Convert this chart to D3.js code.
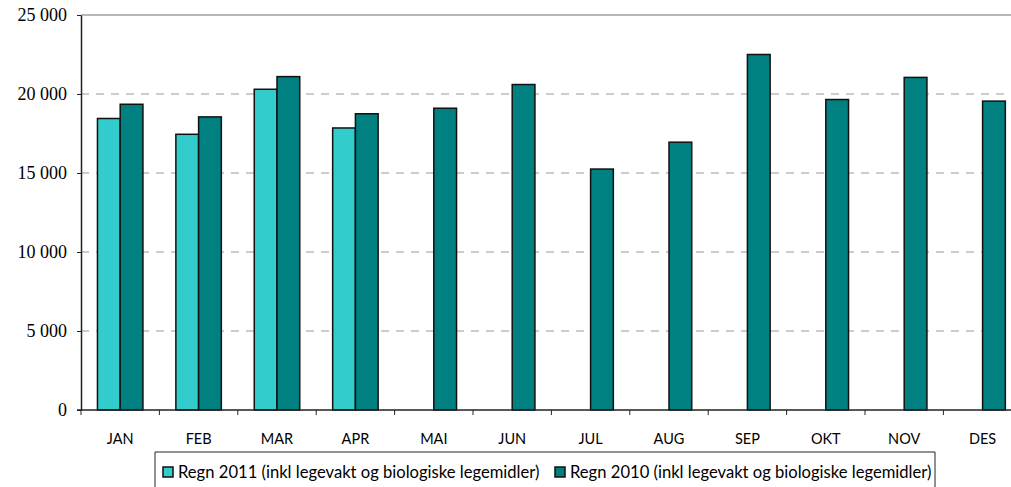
<!DOCTYPE html>
<html>
<head>
<meta charset="utf-8">
<script src="https://cdn.jsdelivr.net/npm/d3@7"></script>
<style>
  body { margin: 0; background: #fff; }
  svg { display: block; }
</style>
</head>
<body>
<div id="chart"></div>
<script>
// data
var months = ["JAN", "FEB", "MAR", "APR", "MAI", "JUN", "JUL", "AUG", "SEP", "OKT", "NOV", "DES"];
var regn2011 = [18450, 17450, 20300, 17850, null, null, null, null, null, null, null, null];
var regn2010 = [19350, 18550, 21100, 18750, 19100, 20600, 15250, 16950, 22500, 19650, 21050, 19550];
var seriesNames = ["Regn 2011 (inkl legevakt og biologiske legemidler)", "Regn 2010 (inkl legevakt og biologiske legemidler)"];
var seriesColors = ["#33cccc", "#008080"];
var yTicks = [0, 5000, 10000, 15000, 20000, 25000];

var W = 1011, H = 487;
var margin = {top: 15, left: 81},
    plotH = 410 - margin.top,
    plotW = 78.4 * months.length;

var svg = d3.select("#chart").append("svg")
    .attr("width", W)
    .attr("height", H);

var g = svg.append("g")
    .attr("transform", "translate(" + margin.left + "," + margin.top + ")");

// scales
var x = d3.scaleBand().domain(months).range([0, plotW]).padding(0);
var x1 = d3.scaleBand().domain([0, 1])
    .range([x.bandwidth() * 0.21, x.bandwidth() * 0.79]).padding(0);
var y = d3.scaleLinear().domain([0, 25000]).range([plotH, 0]);

// gridlines
g.selectAll(".grid")
    .data(yTicks.filter(function(d) { return d > 0 && d < 25000; }))
    .enter().append("line")
    .attr("x1", 0).attr("x2", W)
    .attr("y1", function(d) { return y(d); })
    .attr("y2", function(d) { return y(d); })
    .style("stroke", "#999")
    .style("stroke-width", 1)
    .style("stroke-dasharray", "8,7");

// top border of plot area
g.append("line")
    .attr("x1", 0).attr("x2", W)
    .attr("y1", y(25000)).attr("y2", y(25000))
    .style("stroke", "#a0a0a0")
    .style("stroke-width", 1.5);

// bars
var rows = [];
months.forEach(function(m, i) {
  if (regn2011[i] != null) rows.push({m: m, s: 0, v: regn2011[i]});
  if (regn2010[i] != null) rows.push({m: m, s: 1, v: regn2010[i]});
});

g.selectAll(".bar")
    .data(rows)
    .enter().append("rect")
    .attr("class", "bar")
    .attr("x", function(d) { return x(d.m) + x1(d.s); })
    .attr("width", x1.bandwidth())
    .attr("y", function(d) { return y(d.v); })
    .attr("height", function(d) { return plotH - y(d.v); })
    .style("fill", function(d) { return seriesColors[d.s]; })
    .style("stroke", "#111")
    .style("stroke-width", 1.5);

// y axis
var yAxis = g.append("g")
    .call(d3.axisLeft(y).tickValues(yTicks).tickSize(4).tickSizeOuter(0)
      .tickFormat(function(d) { return d3.format(",")(d).replace(/,/g, " "); }));
yAxis.select(".domain").style("stroke", "#222").style("stroke-width", 1.5);
yAxis.selectAll(".tick line").style("stroke", "#222");
yAxis.selectAll("text")
    .attr("x", -14)
    .style("font-family", "'Liberation Serif'")
    .style("font-size", "18px")
    .style("fill", "#000");

// x axis
var xAxis = g.append("g")
    .attr("transform", "translate(0," + plotH + ")")
    .call(d3.axisBottom(x).tickSize(0).tickSizeOuter(0));
xAxis.select(".domain").remove();
xAxis.append("line")
    .attr("x1", -4).attr("x2", W)
    .style("stroke", "#222").style("stroke-width", 1.5);
xAxis.selectAll(".sep")
    .data(months)
    .enter().append("line")
    .attr("x1", function(d) { return x(d); })
    .attr("x2", function(d) { return x(d); })
    .attr("y1", 0).attr("y2", 5)
    .style("stroke", "#222");
xAxis.selectAll("text")
    .attr("y", 0)
    .attr("dy", "34px")
    .style("font-family", "'Lato'")
    .style("font-size", "14.5px")
    .style("fill", "#000");

// legend
var legend = svg.append("g");
legend.append("path")
    .attr("d", "M155,495 V452 H935 V495")
    .style("fill", "none")
    .style("stroke", "#222")
    .style("stroke-width", 1);

var legX = [163, 555];
seriesNames.forEach(function(name, i) {
  legend.append("rect")
      .attr("x", legX[i]).attr("y", 467)
      .attr("width", 10).attr("height", 10)
      .style("fill", seriesColors[i])
      .style("stroke", "#111")
      .style("stroke-width", 1.5);
  legend.append("text")
      .attr("x", legX[i] + 15)
      .attr("y", 478)
      .style("font-family", "'Lato'")
      .style("font-size", "16.6px")
      .style("fill", "#000")
      .text(name);
});
</script>
</body>
</html>
